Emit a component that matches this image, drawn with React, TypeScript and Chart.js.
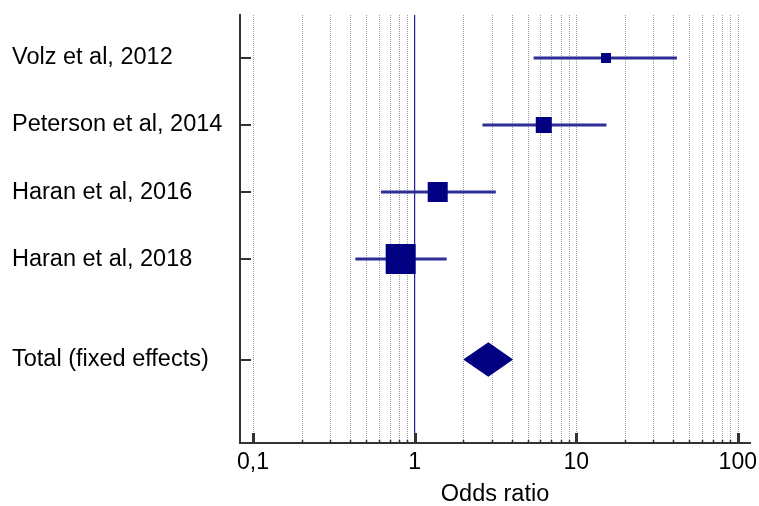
import React, { useEffect, useRef } from 'react';
import { Chart, registerables } from 'chart.js';

Chart.register(...registerables);

// ---- data ----
const studyLabels = ['Volz et al, 2012', 'Peterson et al, 2014', 'Haran et al, 2016', 'Haran et al, 2018'];
const studyRows = [0, 1, 2, 3];
const oddsRatios = [15.3, 6.3, 1.39, 0.82];
const ciLower = [5.45, 2.63, 0.62, 0.43];
const ciUpper = [42.0, 15.4, 3.18, 1.58];
const studyWeights = [6.0, 15.5, 24.2, 54.3]; // % weight (square area)

const totalLabel = 'Total (fixed effects)';
const totalRow = 4.5;
const totalOR = 2.86;
const totalLower = 2.02;
const totalUpper = 4.03;

const xTickValues = [0.1, 1, 10, 100];
const xTickLabels = ['0,1', '1', '10', '100'];
const gridValues = [
  0.1, 0.2, 0.3, 0.4, 0.5, 0.6, 0.7, 0.8, 0.9,
  1, 2, 3, 4, 5, 6, 7, 8, 9,
  10, 20, 30, 40, 50, 60, 70, 80, 90, 100,
];
const xMin = 0.0831;
const xMax = 119;
const yMin = -0.642;
const yMax = 5.746;
const yTickValues = [...studyRows, totalRow];
const yTickLabels = [...studyLabels, totalLabel];
const xTitle = 'Odds ratio';

const NAVY = '#000080';
const FONT = '"Liberation Sans", Arial, sans-serif';

const forestPlugin = {
  id: 'forestDecor',
  beforeDatasetsDraw(chart: any) {
    const { ctx, chartArea, scales } = chart;
    const x = scales.x;
    ctx.save();
    ctx.strokeStyle = '#a0a0a0';
    ctx.lineWidth = 1;
    ctx.setLineDash([1, 1]);
    gridValues.forEach((v) => {
      if (v === 1) return;
      const px = Math.round(x.getPixelForValue(v)) + 0.5;
      ctx.beginPath();
      ctx.moveTo(px, chartArea.top);
      ctx.lineTo(px, chartArea.bottom);
      ctx.stroke();
    });
    ctx.restore();
  },
  afterDatasetsDraw(chart: any) {
    const { ctx, chartArea, scales } = chart;
    const x = scales.x;
    const y = scales.y;
    ctx.save();
    ctx.strokeStyle = '#333333';
    ctx.setLineDash([]);
    gridValues.forEach((v) => {
      const major = xTickValues.includes(v);
      const px = Math.round(x.getPixelForValue(v)) + 0.5;
      ctx.lineWidth = major ? 3 : 1.5;
      ctx.beginPath();
      ctx.moveTo(px, chartArea.bottom);
      ctx.lineTo(px, chartArea.bottom - (major ? 10 : 3));
      ctx.stroke();
    });
    ctx.lineWidth = 2;
    yTickValues.forEach((v) => {
      const py = Math.round(y.getPixelForValue(v));
      ctx.beginPath();
      ctx.moveTo(chartArea.left, py);
      ctx.lineTo(chartArea.left + 11, py);
      ctx.stroke();
    });
    ctx.restore();
  },
};

export default function App() {
  const canvasRef = useRef<HTMLCanvasElement | null>(null);

  useEffect(() => {
    const canvas = canvasRef.current;
    if (!canvas) return;

    const squares = {
      type: 'scatter',
      data: studyRows.map((r, i) => ({ x: oddsRatios[i], y: r })),
      pointStyle: 'rect',
      pointRadius: studyWeights.map((w) => (Math.sqrt(w) * 4.07) / Math.SQRT2),
      pointHoverRadius: studyWeights.map((w) => (Math.sqrt(w) * 4.07) / Math.SQRT2),
      pointBackgroundColor: NAVY,
      pointBorderWidth: 0,
      showLine: false,
    };

    const diamond = {
      type: 'scatter',
      data: [
        { x: totalLower, y: totalRow },
        { x: totalOR, y: totalRow - 0.25 },
        { x: totalUpper, y: totalRow },
        { x: totalOR, y: totalRow + 0.25 },
        { x: totalLower, y: totalRow },
      ],
      showLine: true,
      fill: 'shape',
      backgroundColor: NAVY,
      borderColor: NAVY,
      borderWidth: 1,
      pointRadius: 0,
      tension: 0,
    };

    const ciLines = studyRows.map((r, i) => ({
      type: 'scatter',
      data: [
        { x: ciLower[i], y: r },
        { x: ciUpper[i], y: r },
      ],
      showLine: true,
      borderColor: '#2e2e96',
      borderWidth: 3,
      pointRadius: 0,
    }));

    const refLine = {
      type: 'scatter',
      data: [
        { x: 1, y: yMin },
        { x: 1, y: yMax },
      ],
      showLine: true,
      borderColor: '#2222aa',
      borderWidth: 1,
      pointRadius: 0,
    };

    const chart = new Chart(canvas, {
      type: 'scatter',
      data: { datasets: [squares, diamond, ...ciLines, refLine] as any },
      options: {
        animation: false,
        responsive: false,
        maintainAspectRatio: false,
        layout: { autoPadding: false, padding: { left: 12, right: 9, top: 15, bottom: 0 } },
        plugins: { legend: { display: false }, tooltip: { enabled: false } },
        scales: {
          x: {
            type: 'logarithmic',
            min: xMin,
            max: xMax,
            afterBuildTicks: (scale: any) => {
              scale.ticks = xTickValues.map((v) => ({ value: v }));
            },
            afterFit: (scale: any) => {
              scale.paddingLeft = 0;
              scale.paddingRight = 0;
              scale.height = 63;
            },
            ticks: {
              autoSkip: false,
              maxRotation: 0,
              padding: 8,
              color: '#000',
              font: { family: FONT, size: 23, lineHeight: 1 },
              callback: (_v: any, i: number) => xTickLabels[i],
            },
            grid: { display: false, drawTicks: false },
            border: { display: true, color: '#333333', width: 2 },
            title: {
              display: true,
              text: xTitle,
              color: '#000',
              font: { family: FONT, size: 23.5, lineHeight: 1 },
              padding: { top: 0, bottom: 0 },
            },
          },
          y: {
            type: 'linear',
            reverse: true,
            min: yMin,
            max: yMax,
            afterBuildTicks: (scale: any) => {
              scale.ticks = yTickValues.map((v) => ({ value: v }));
            },
            afterFit: (scale: any) => {
              scale.width = 228;
              scale.paddingTop = 0;
              scale.paddingBottom = 0;
            },
            ticks: {
              autoSkip: false,
              crossAlign: 'far',
              padding: 0,
              color: '#000',
              font: { family: FONT, size: 23.5 },
              callback: (_v: any, i: number) => yTickLabels[i],
            },
            grid: { display: false, drawTicks: false },
            border: { display: true, color: '#333333', width: 2 },
          },
        },
      } as any,
      plugins: [forestPlugin],
    });

    return () => chart.destroy();
  }, []);

  return (
    <div style={{ position: 'fixed', left: 0, top: 0, width: 759, height: 506, background: '#fff' }}>
      <canvas ref={canvasRef} width={759} height={506} style={{ width: 759, height: 506 }} />
    </div>
  );
}
